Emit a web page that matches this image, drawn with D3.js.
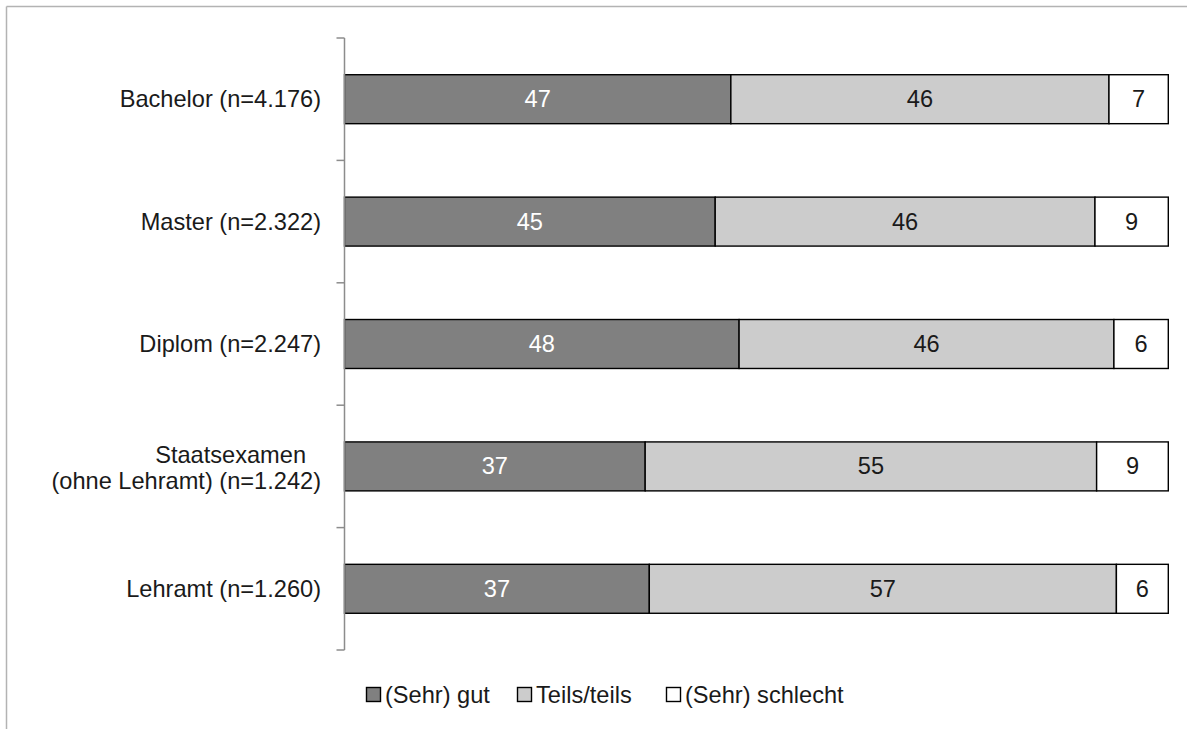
<!DOCTYPE html>
<html>
<head>
<meta charset="utf-8">
<script src="https://cdn.jsdelivr.net/npm/d3@7"></script>
<style>
  html, body { margin: 0; padding: 0; background: #fff; }
  svg { display: block; font-family: "Liberation Sans", Arial, sans-serif; }
</style>
</head>
<body>
<svg id="chart" width="1187" height="729"></svg>
<script>
// ---- data ----
const categories = [
  "Bachelor (n=4.176)",
  "Master (n=2.322)",
  "Diplom (n=2.247)",
  "Staatsexamen\n(ohne Lehramt) (n=1.242)",
  "Lehramt (n=1.260)"
];
const seriesNames = ["(Sehr) gut", "Teils/teils", "(Sehr) schlecht"];
// shares (%)
const gut      = [46.9, 45.0, 47.9, 36.5, 37.0];
const teils    = [45.9, 46.1, 45.5, 54.8, 56.7];
const schlecht = [7.2, 8.9, 6.6, 8.7, 6.3];
// printed labels
const gutLabels      = ["47", "45", "48", "37", "37"];
const teilsLabels    = ["46", "46", "46", "55", "57"];
const schlechtLabels = ["7", "9", "6", "9", "6"];

const colors = ["#808080", "#cccccc", "#ffffff"];
const labelColors = ["#ffffff", "#1a1a1a", "#1a1a1a"];
const FS = 23.6;

const rows = categories.map((c, i) => ({
  cat: c,
  "(Sehr) gut": gut[i],
  "Teils/teils": teils[i],
  "(Sehr) schlecht": schlecht[i],
  labels: [gutLabels[i], teilsLabels[i], schlechtLabels[i]]
}));

const svg = d3.select("#chart");
const W = 1187, H = 729;

// outer frame (top and left visible)
svg.append("line").attr("x1", 6.5).attr("x2", W).attr("y1", 6.5).attr("y2", 6.5)
  .attr("stroke", "#b3b3b3").attr("stroke-width", 1.5);
svg.append("line").attr("x1", 6.5).attr("x2", 6.5).attr("y1", 6.5).attr("y2", H)
  .attr("stroke", "#b3b3b3").attr("stroke-width", 1.5);

const x = d3.scaleLinear().domain([0, 100]).range([344.5, 1168.3]);
const y = d3.scaleBand().domain(categories).range([38, 650])
  .paddingInner(0.6).paddingOuter(0.3);

const stack = d3.stack().keys(seriesNames).offset(d3.stackOffsetExpand);
const stacked = stack(rows);

// bars
const g = svg.append("g");
stacked.forEach((layer, si) => {
  g.selectAll(null).data(layer).enter().append("rect")
    .attr("x", d => x(d[0] * 100))
    .attr("y", d => y(d.data.cat))
    .attr("width", d => x(d[1] * 100) - x(d[0] * 100))
    .attr("height", y.bandwidth())
    .attr("fill", colors[si])
    .attr("stroke", "#000")
    .attr("stroke-width", 1.4);
});
// value labels
stacked.forEach((layer, si) => {
  g.selectAll(null).data(layer).enter().append("text")
    .attr("x", d => (x(d[0] * 100) + x(d[1] * 100)) / 2)
    .attr("y", d => y(d.data.cat) + y.bandwidth() / 2)
    .attr("text-anchor", "middle")
    .attr("dominant-baseline", "central")
    .attr("font-size", FS)
    .attr("fill", labelColors[si])
    .text(d => d.data.labels[si]);
});

// y axis line and tick marks at band boundaries
const axisX = 344.5;
const axisG = svg.append("g");
axisG.append("line").attr("x1", axisX).attr("x2", axisX)
  .attr("y1", y.range()[0]).attr("y2", y.range()[1])
  .attr("stroke", "#8c8c8c").attr("stroke-width", 1.5);
const tickYs = d3.range(categories.length + 1).map(i => y.range()[0] + i * y.step());
axisG.selectAll(null).data(tickYs).enter().append("line")
  .attr("x1", axisX - 8).attr("x2", axisX)
  .attr("y1", d => d).attr("y2", d => d)
  .attr("stroke", "#8c8c8c").attr("stroke-width", 1.5);

// category labels
categories.forEach(c => {
  const lines = c.split("\n");
  const cy = y(c) + y.bandwidth() / 2 + (lines.length > 1 ? 1.5 : 0);
  const t = svg.append("text")
    .attr("font-size", FS).attr("fill", "#1a1a1a")
    .attr("text-anchor", "end");
  lines.forEach((ln, li) => {
    t.append("tspan")
      .attr("x", lines.length > 1 && li === 0 ? 306 : 321)
      .attr("y", cy + (li - (lines.length - 1) / 2) * 26)
      .attr("dominant-baseline", "central")
      .text(ln);
  });
});

// legend
const legendX = [366, 517, 666];
const lg = svg.append("g");
seriesNames.forEach((s, i) => {
  lg.append("rect").attr("x", legendX[i] + 0.5).attr("y", 687.5)
    .attr("width", 14).attr("height", 14)
    .attr("fill", colors[i]).attr("stroke", "#000").attr("stroke-width", 1.4);
  lg.append("text").attr("x", legendX[i] + 19).attr("y", 694.5)
    .attr("dominant-baseline", "central")
    .attr("font-size", FS).attr("fill", "#1a1a1a").text(s);
});
</script>
</body>
</html>
